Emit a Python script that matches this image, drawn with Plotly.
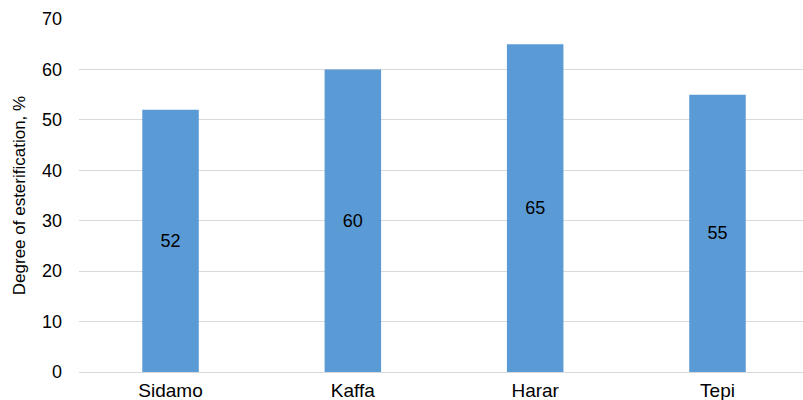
import plotly.graph_objects as go

categories = ["Sidamo", "Kaffa", "Harar", "Tepi"]
values = [52, 60, 65, 55]
y_ticks = [0, 10, 20, 30, 40, 50, 60, 70]

FONT = "Liberation Sans, Arial, sans-serif"

fig = go.Figure()
fig.add_trace(go.Bar(
    x=categories, y=values,
    marker=dict(color="#5B9BD5", line=dict(width=0)),
    width=0.31,
    text=[str(v) for v in values],
    textposition="inside",
    insidetextanchor="middle",
    textfont=dict(family=FONT, size=18, color="#000000"),
    showlegend=False,
))

fig.update_layout(
    width=803, height=400,
    margin=dict(l=79, r=0, t=19, b=28),
    paper_bgcolor="white", plot_bgcolor="white",
    font=dict(family=FONT, size=18, color="#000000"),
    xaxis=dict(
        range=[-0.502, 3.469], automargin=False,
        showgrid=False, showline=True, linecolor="#d9d9d9", linewidth=1,
        ticks="", tickfont=dict(size=19, color="#000000"),
        ticklabelstandoff=1,
    ),
    yaxis=dict(
        range=[0, 70], tickvals=y_ticks, automargin=False,
        showgrid=True, gridcolor="#d9d9d9", gridwidth=1,
        zeroline=False, showline=False, ticks="",
        tickfont=dict(size=18, color="#000000"),
        ticklabelstandoff=16,
        title=dict(text="Degree of esterification, %", font=dict(size=17, color="#000000"), standoff=12),
    ),
)

fig.write_html("out.html")
